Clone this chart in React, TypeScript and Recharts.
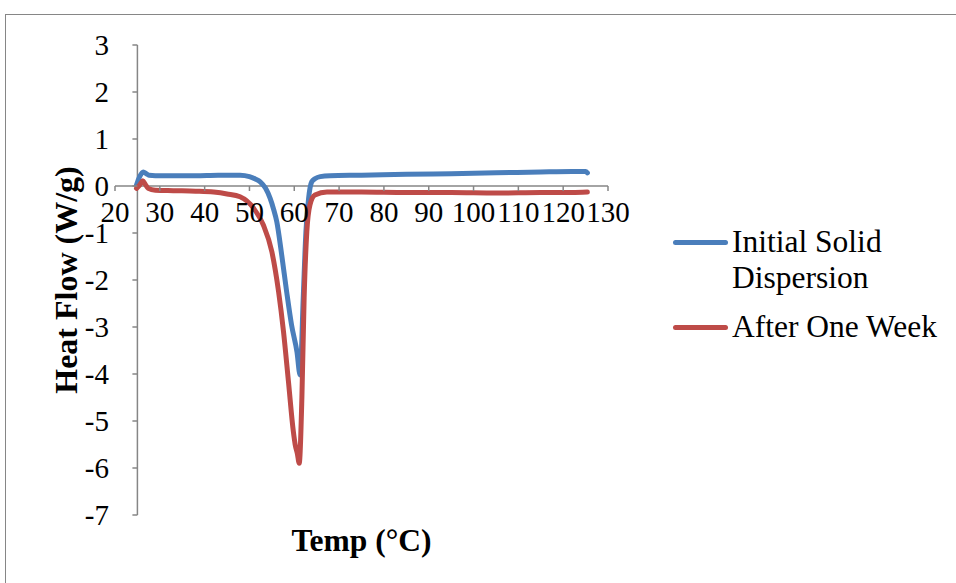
import React from 'react';
import { LineChart, Line, XAxis, YAxis, ReferenceLine, ReferenceDot, Legend } from 'recharts';

const xTicks = [20, 30, 40, 50, 60, 70, 80, 90, 100, 110, 120, 130];
const yTicks = [3, 2, 1, 0, -1, -2, -3, -4, -5, -6, -7];
const axisCrossTemp = 25;

const initialName = 'Initial Solid Dispersion';
const initialTemp = [24.8, 25.5, 26.3, 27.0, 27.6, 29, 33, 38, 43, 47.9, 50.0, 51.3, 52.4, 53.6, 54.6, 55.4, 56.1, 57.2, 58.3, 59.4, 60.6, 61.3, 62.0, 62.6, 63.2, 63.9, 64.7, 65.8, 68, 75, 85, 95, 105, 115, 122, 125.0, 125.4];
const initialFlow = [0.02, 0.2, 0.3, 0.26, 0.23, 0.22, 0.22, 0.22, 0.23, 0.23, 0.2, 0.15, 0.09, -0.05, -0.26, -0.5, -0.76, -1.47, -2.25, -2.96, -3.53, -4.02, -2.38, -0.97, -0.26, 0.09, 0.16, 0.2, 0.22, 0.23, 0.25, 0.26, 0.28, 0.3, 0.31, 0.31, 0.28];

const weekName = 'After One Week';
const weekTemp = [24.8, 25.5, 26.2, 26.8, 27.4, 29, 33, 38, 42, 45, 47.9, 50.9, 53.1, 55.0, 56.5, 57.6, 58.7, 59.8, 60.2, 60.7, 61.1, 61.7, 62.2, 62.8, 63.5, 64.6, 67.3, 75, 85, 95, 105, 115, 122, 125.4];
const weekFlow = [-0.05, 0.02, 0.11, 0.03, -0.05, -0.09, -0.1, -0.11, -0.13, -0.17, -0.23, -0.47, -0.83, -1.4, -2.25, -3.1, -4.16, -5.23, -5.5, -5.7, -5.9, -4.5, -2.38, -0.97, -0.4, -0.19, -0.13, -0.13, -0.14, -0.14, -0.15, -0.14, -0.14, -0.13];

const seriesOrder = [initialName, weekName];

const initialData = initialTemp.map((t, i) => ({ temp: t, flow: initialFlow[i] }));
const weekData = weekTemp.map((t, i) => ({ temp: t, flow: weekFlow[i] }));

const FONT = '"Liberation Serif", "Times New Roman", serif';
const AXIS_GRAY = '#868686';
const BLUE = '#4A7EBB';
const RED = '#BE4B48';

const renderLegend = (props: any) => {
  const payload = [...(props.payload || [])].sort(
    (a: any, b: any) => seriesOrder.indexOf(a.value) - seriesOrder.indexOf(b.value)
  );
  return (
    <div style={{ fontFamily: FONT, fontSize: 31.5, lineHeight: '36px', color: '#000' }}>
      {payload.map((e: any, i: number) => (
        <div key={i} style={{ display: 'flex', alignItems: 'flex-start', marginBottom: 13 }}>
          <div style={{ width: 55, height: 5, background: e.color, borderRadius: 3, marginTop: 16, marginRight: 4, flex: 'none' }} />
          <div style={{ width: 222, textAlign: 'left' }}>{e.value}</div>
        </div>
      ))}
    </div>
  );
};

export default function App() {
  return (
    <div style={{ position: 'absolute', left: 0, top: 0, width: 956, height: 583, background: '#fff', overflow: 'hidden' }}>
      <div style={{ position: 'absolute', left: 5, top: 14, width: 1000, height: 700, border: `1px solid ${AXIS_GRAY}` }} />
      <div style={{ position: 'absolute', left: 0, top: 0 }}>
        <LineChart width={956} height={583} margin={{ top: 45, right: 348, bottom: 0, left: 0 }}>
          <XAxis
            type="number"
            dataKey="temp"
            domain={[20, 130]}
            ticks={xTicks}
            height={68}
            tick={false}
            tickLine={false}
            axisLine={false}
            allowDataOverflow
            label={{
              content: (p: any) => {
                const vb = p.viewBox;
                return (
                  <text x={vb.x + vb.width / 2} y={vb.y + 25} textAnchor="middle" dominantBaseline="central"
                    fontFamily={FONT} fontWeight="bold" fontSize={31.5} fill="#000">Temp (°C)</text>
                );
              },
            }}
          />
          <YAxis
            type="number"
            domain={[-7, 3]}
            ticks={yTicks}
            width={115}
            tickSize={0}
            tickMargin={6}
            tickLine={false}
            axisLine={false}
            allowDataOverflow
            tick={{ fontFamily: FONT, fontSize: 29, fill: '#000' }}
            label={{
              content: (p: any) => {
                const vb = p.viewBox;
                const cx = vb.x + vb.width / 2 + 8.5;
                const cy = vb.y + vb.height / 2;
                return (
                  <text x={cx} y={cy} transform={`rotate(-90, ${cx}, ${cy})`} textAnchor="middle" dominantBaseline="central"
                    fontFamily={FONT} fontWeight="bold" fontSize={32} fill="#000">Heat Flow (W/g)</text>
                );
              },
            }}
          />
          <ReferenceLine segment={[{ x: axisCrossTemp, y: -7 }, { x: axisCrossTemp, y: 3 }]} stroke={AXIS_GRAY} strokeWidth={1.5} />
          <ReferenceLine segment={[{ x: 20, y: 0 }, { x: 130, y: 0 }]} stroke={AXIS_GRAY} strokeWidth={1.5} />
          {yTicks.map((t) => (
            <ReferenceDot key={'y' + t} x={axisCrossTemp} y={t} r={0}
              shape={(p: any) => <line x1={p.cx - 5} x2={p.cx} y1={p.cy} y2={p.cy} stroke={AXIS_GRAY} strokeWidth={1.5} />} />
          ))}
          {xTicks.map((t) => (
            <ReferenceDot key={'x' + t} x={t} y={0} r={0}
              shape={(p: any) => (
                <g>
                  <line x1={p.cx} x2={p.cx} y1={p.cy} y2={p.cy + 5} stroke={AXIS_GRAY} strokeWidth={1.5} />
                  <text x={p.cx} y={p.cy + 26} textAnchor="middle" dominantBaseline="central" fontFamily={FONT} fontSize={29} fill="#000">{t}</text>
                </g>
              )} />
          ))}
          <Line data={initialData} dataKey="flow" name={initialName} type="monotone" stroke={BLUE} strokeWidth={5}
            dot={false} isAnimationActive={false} strokeLinecap="round" strokeLinejoin="round" />
          <Line data={weekData} dataKey="flow" name={weekName} type="monotone" stroke={RED} strokeWidth={5}
            dot={false} isAnimationActive={false} strokeLinecap="round" strokeLinejoin="round" />
          <Legend layout="vertical" align="center" verticalAlign="middle" content={renderLegend}
            wrapperStyle={{ left: 673, top: 224, width: 283 }} />
        </LineChart>
      </div>
    </div>
  );
}
